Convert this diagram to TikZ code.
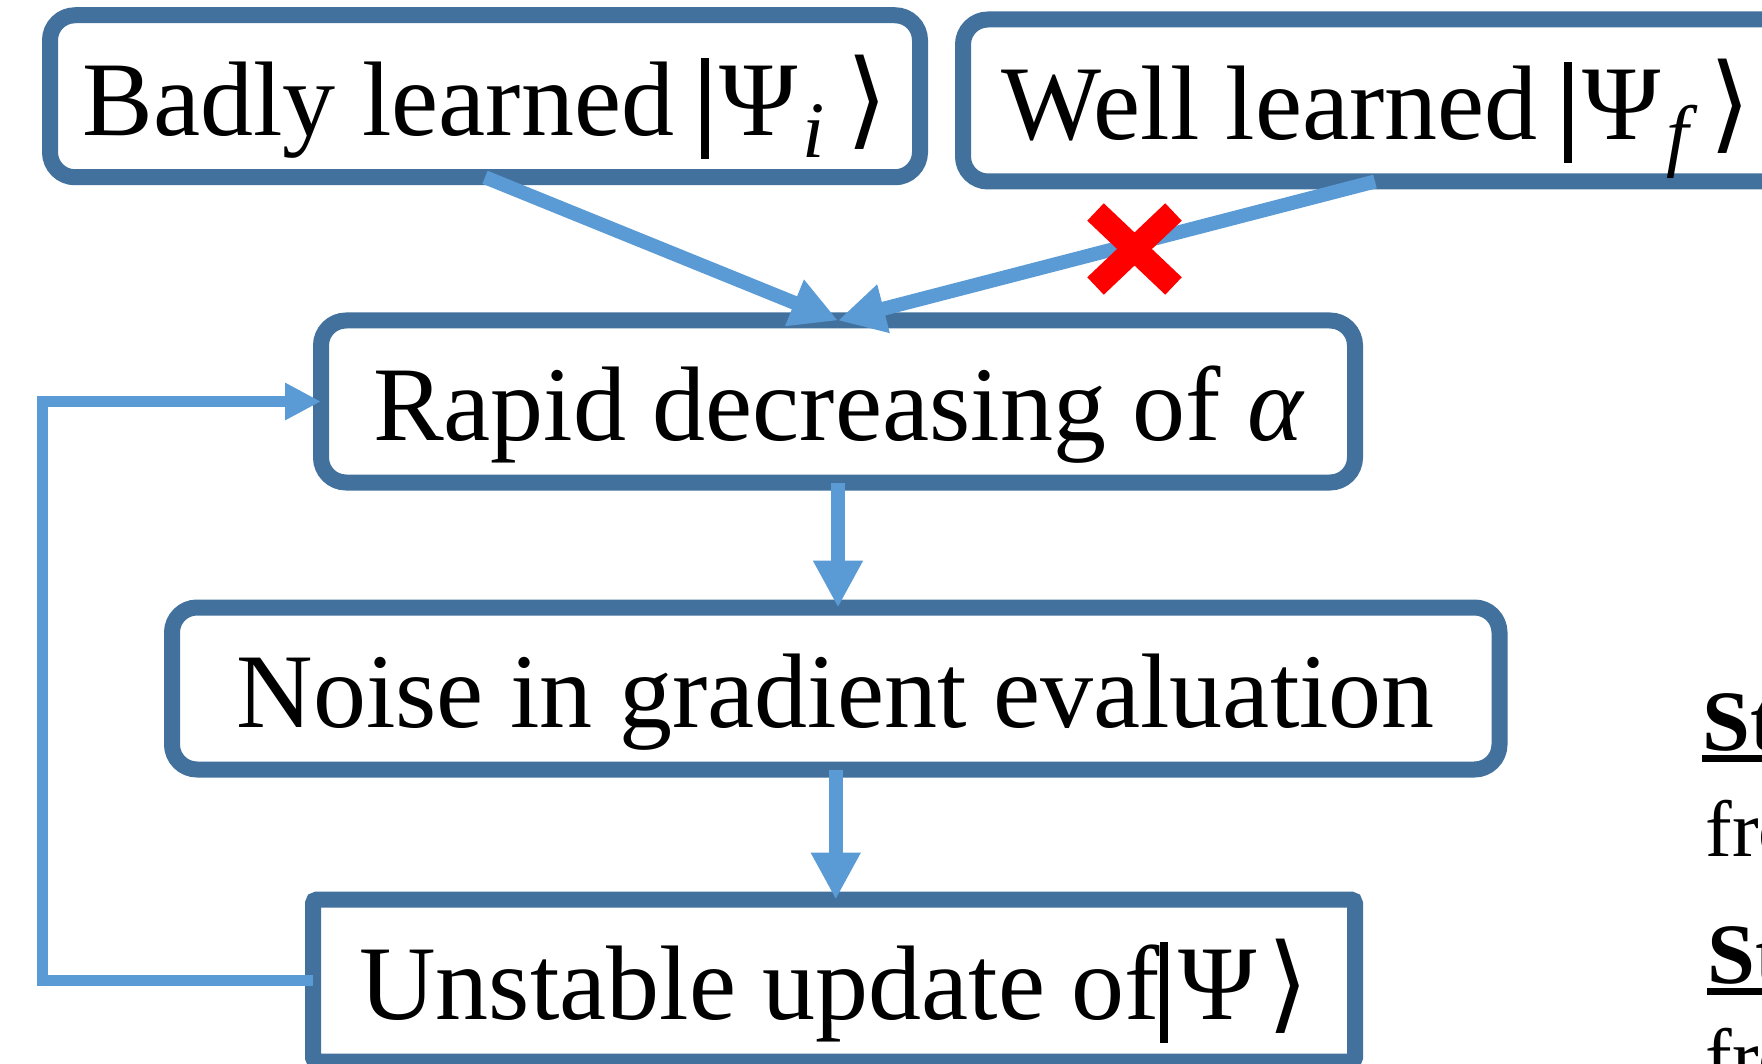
\documentclass[tikz,border=0pt]{standalone}
\usepackage{fontspec}
\setmainfont{Liberation Serif}
\newfontfamily\symbolfont{DejaVu Sans}
\usetikzlibrary{arrows.meta,calc}

\definecolor{boxblue}{HTML}{41719C}
\definecolor{arrowblue}{HTML}{5B9BD5}
\definecolor{crossred}{HTML}{FF0000}

% thick bar of a ket
\newcommand\ketbar{\rule[-0.22em]{0.075em}{0.95em}\hspace{0.1em}}
% closing angle of a ket
\newcommand\ketangle{{\symbolfont ⟩}}
% |Psi_sub> with an italic subscript
\newcommand\ketsub[1]{\ketbar Ψ\hspace{0.05em}\raisebox{-0.21em}{\fontsize{40}{40}\selectfont\itshape #1}\hspace{0.2em}\ketangle}
% |Psi>
\newcommand\ketplain{\ketbar Ψ\hspace{0.1em}\ketangle}
% heavy underline under a word
\newcommand\ulword[1]{\setbox0=\hbox{#1}\rlap{\rule[-5.75pt]{\wd0}{3.5pt}}\box0}

\begin{document}
\begin{tikzpicture}[x=0.5pt,y=-0.5pt,
  stagebox/.style={draw=boxblue, line width=8pt, rounded corners=12.5pt,
    fill=white, inner sep=0pt, outer sep=0pt, minimum height=81pt,
    text height=39pt, text depth=0pt,
    font=\fontsize{53}{60}\selectfont},
  flowarrow/.style={draw=arrowblue, line width=7pt,
    -{Triangle[length=23.5pt,width=23.5pt]}},
  backarrow/.style={draw=arrowblue, line width=5.5pt,
    -{Triangle[length=18pt,width=17.5pt]}},
  sidetext/.style={anchor=base west, inner sep=0pt},
]
\useasboundingbox (0,0) rectangle (1762,1064);
\clip (0,0) rectangle (1762,1064);

% stages
\node[stagebox, minimum width=435pt] (badly) at (485,96.25)
  {Badly learned \ketsub{i}};
\node[stagebox, minimum width=413.5pt] (well) at (1376.5,100.5)
  {Well learned \ketsub{f}};
\node[stagebox, minimum width=517pt] (rapid) at (838,401.5)
  {Rapid decreasing of {\itshape α}};
\node[stagebox, minimum width=663.75pt] (noise) at (835.75,688.5)
  {Noise in gradient evaluation};
\node[stagebox, rounded corners=2pt, minimum width=521pt] (unstable) at (834,980.5)
  {Unstable update of\ketplain};

% flow
\draw[flowarrow] (badly.south) -- (rapid.north);
\draw[flowarrow] ($(well.south west)+(412,0)$) -- (rapid.north);
\draw[flowarrow] (rapid.south) -- (rapid.south |- noise.north);
\draw[flowarrow] (noise.south) -- (noise.south |- unstable.north);
\draw[backarrow] (unstable.west) -- ++(-271,0) |- (rapid.west);

% blocked path
\coordinate (cross) at (1134.5,249);
\draw[crossred, line width=12pt]
  ($(cross)+(-39,-37)$) -- ($(cross)+(39,37)$)
  ($(cross)+(-39,37)$) -- ($(cross)+(39,-37)$);

% step notes
\node[sidetext, font=\fontsize{43}{50}\selectfont\bfseries] (stepa) at (1702,750) {\ulword{St}};
\node[sidetext, font=\fontsize{40}{46}\selectfont] (froma) at (1705,856) {fro};
\node[sidetext, font=\fontsize{43}{50}\selectfont\bfseries] (stepb) at (1707,983) {\ulword{St}};
\node[sidetext, font=\fontsize{40}{46}\selectfont] (fromb) at (1705,1084) {fro};
\end{tikzpicture}
\end{document}
